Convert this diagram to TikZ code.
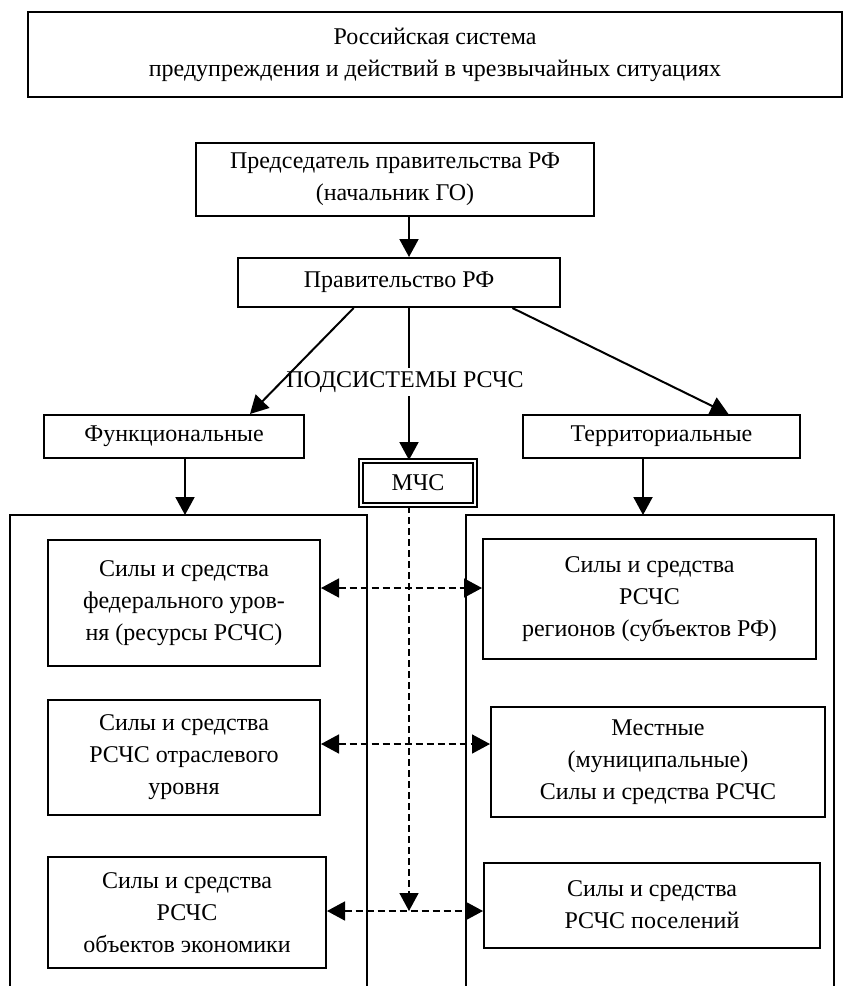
\documentclass[tikz,border=0pt]{standalone}
\usepackage{fontspec}
\setmainfont{Liberation Serif}
\usetikzlibrary{arrows.meta,calc}

\tikzset{
  box/.style={draw, line width=2pt, align=center, inner sep=4pt},
  arr/.style={line width=2pt, -{Triangle[length=18pt,width=19pt]}},
  darr/.style={line width=1.6pt, dash pattern=on 7pt off 4pt, {Triangle[length=18pt,width=19pt]}-{Triangle[length=18pt,width=19pt]}},
  sysline/.style={line width=2pt}
}

\begin{document}
\begin{tikzpicture}[x=1pt,y=-1pt,font=\fontsize{24}{32}\selectfont]
\useasboundingbox (0,0) rectangle (844,986);

\node[box, minimum width=814pt, minimum height=85pt] (rschs) at (435,54.5) {Российская система\\предупреждения и действий в чрезвычайных ситуациях};
\node[box, minimum width=398pt, minimum height=73pt] (pred) at (395,179.5) {Председатель правительства РФ\\(начальник ГО)};
\node[box, minimum width=322pt, minimum height=49pt] (prav) at (399,282.5) {Правительство РФ};
\node (podsys) at (405,382) {ПОДСИСТЕМЫ РСЧС};
\node[box, minimum width=260pt, minimum height=43pt] (func) at (174,436.5) {Функциональные};
\node[box, minimum width=277pt, minimum height=43pt] (terr) at (661.5,436.5) {Территориальные};
\node[box, double, double distance=2pt, minimum width=114pt, minimum height=44pt] (mchs) at (418,483) {МЧС};

% functional and territorial parts
\draw[sysline] (10,990) -- (10,515) -- (367,515) -- (367,990);
\draw[sysline] (466,990) -- (466,515) -- (834,515) -- (834,990);
\coordinate (ltop) at (185,515);
\coordinate (rtop) at (643,515);

\node[box, minimum width=272pt, minimum height=126pt] (fed) at (184,603) {Силы и средства\\федерального уров-\\ня (ресурсы РСЧС)};
\node[box, minimum width=272pt, minimum height=115pt] (otr) at (184,757.5) {Силы и средства\\РСЧС отраслевого\\уровня};
\node[box, minimum width=278pt, minimum height=111pt] (obj) at (187,912.5) {Силы и средства\\РСЧС\\объектов экономики};
\node[box, minimum width=333pt, minimum height=120pt] (reg) at (649.5,599) {Силы и средства\\РСЧС\\регионов (субъектов РФ)};
\node[box, minimum width=334pt, minimum height=110pt] (mest) at (658,762) {Местные\\(муниципальные)\\Силы и средства РСЧС};
\node[box, minimum width=336pt, minimum height=85pt] (pos) at (652,905) {Силы и средства\\РСЧС поселений};

\coordinate (axis) at (409,0);
\coordinate (row1) at (0,588);
\coordinate (row2) at (0,744);
\coordinate (row3) at (0,911);

\draw[arr] (pred.south -| axis) -- (prav.north -| axis);
\draw[sysline] (prav.south -| axis) -- (podsys.north -| axis);
\draw[arr] (podsys.south -| axis) -- (mchs.north -| axis);
\draw[arr] ($(prav.south west)!0.36!(prav.south east)$) -- ($(func.north west)!0.79!(func.north east)$);
\draw[arr] ($(prav.south west)!0.85!(prav.south east)$) -- ($(terr.north west)!0.74!(terr.north east)$);
\draw[arr] (func.south -| ltop) -- (ltop);
\draw[arr] (terr.south -| rtop) -- (rtop);

\draw[darr] (fed.east |- row1) -- (reg.west |- row1);
\draw[darr] (otr.east |- row2) -- (mest.west |- row2);
\draw[darr] (obj.east |- row3) -- (pos.west |- row3);
\draw[arr, line width=1.6pt, dash pattern=on 7pt off 4pt] (mchs.south -| axis) -- (row3 -| axis);
\end{tikzpicture}
\end{document}
